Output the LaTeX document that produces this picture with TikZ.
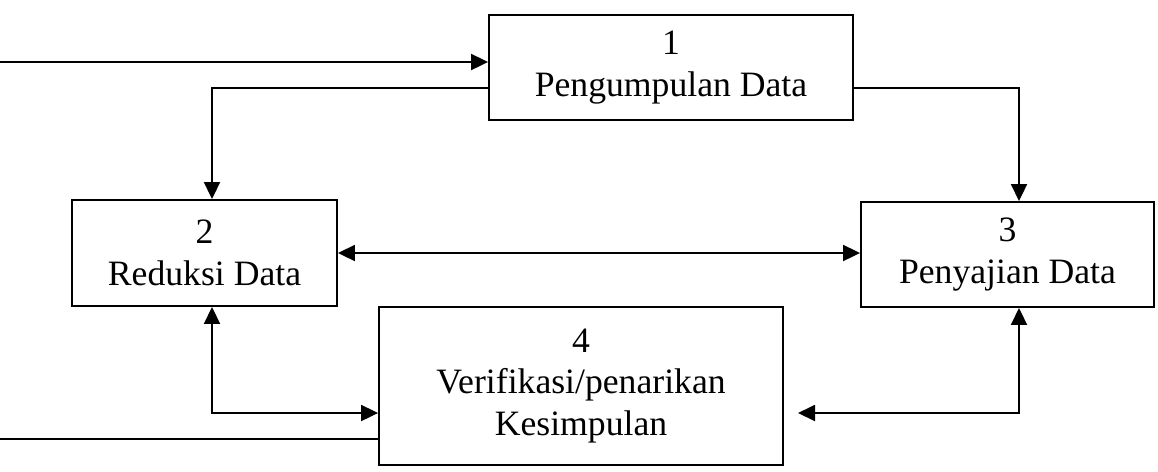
\documentclass[tikz,border=0pt]{standalone}
\usepackage{fontspec}
\setmainfont{Liberation Serif}
\usetikzlibrary{arrows.meta,positioning}

\begin{document}
\begin{tikzpicture}[
    x=0.02cm, y=-0.02cm,
    box/.style={draw, line width=1.1pt, align=center, inner sep=0pt,
        font=\fontsize{20.3}{23.5}\selectfont},
    flow/.style={-{Triangle[length=0.34cm, width=0.32cm]}, line width=1.1pt},
    both/.style={{Triangle[length=0.34cm, width=0.32cm]}-{Triangle[length=0.34cm, width=0.32cm]}, line width=1.1pt},
    plain/.style={line width=1.1pt},
]
\useasboundingbox (0,0) rectangle (1158,471);

\node[box, minimum width=7.28cm, minimum height=2.1cm] (kumpul) at (671,67.5) {1\\Pengumpulan Data};
\node[box, minimum width=5.3cm, minimum height=2.12cm] (reduksi) at (204.5,253) {2\\Reduksi Data};
\node[box, minimum width=5.86cm, minimum height=2.1cm] (sajian) at (1007.5,254.5) {3\\Penyajian Data};
\node[box, minimum width=8.08cm, minimum height=3.16cm] (simpul) at (581,386) {4\\Verifikasi/penarikan\\Kesimpulan};

\coordinate (masuk) at (0,62);
\coordinate (kiri) at (212,88);
\coordinate (kanan) at (1019,88);
\coordinate (bawahkiri) at (212,413);
\coordinate (bawahkanan) at (1019,413);
\coordinate (ujung) at (798,413);
\coordinate (keluar) at (0,439);

\draw[flow] (masuk) -- (masuk -| kumpul.west);
\draw[flow] (kumpul.west |- kiri) -- (kiri) -- (kiri |- reduksi.north);
\draw[flow] (kumpul.east |- kanan) -- (kanan) -- (kanan |- sajian.north);
\draw[both] (reduksi.east) -- (reduksi.east -| sajian.west);
\draw[both] (bawahkiri |- reduksi.south) -- (bawahkiri) -- (bawahkiri -| simpul.west);
\draw[both] (bawahkanan |- sajian.south) -- (bawahkanan) -- (ujung);
\draw[plain] (simpul.west |- keluar) -- (keluar);

\end{tikzpicture}
\end{document}
